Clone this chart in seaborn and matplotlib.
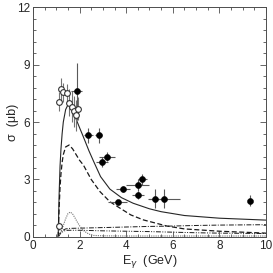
"""
Photoproduction cross section vs photon energy: data points with model curves
"""
import numpy as np
import seaborn as sns
import matplotlib.pyplot as plt
from matplotlib.ticker import MultipleLocator

# filled points: E, sigma, x error, y error
fill_e = [1.88, 2.38, 2.82, 2.95, 3.17, 3.64, 3.85, 4.50, 4.50, 4.70, 5.25, 5.64, 9.30]
fill_s = [7.6, 5.3, 5.3, 3.9, 4.2, 1.8, 2.5, 2.7, 2.2, 3.0, 2.0, 2.0, 1.9]
fill_xe = [0.24, 0.2, 0.15, 0.25, 0.35, 0.4, 0.3, 0.5, 0.25, 0.2, 0.3, 0.65, 0.0]
fill_ye = [1.5, 0.4, 0.4, 0.25, 0.25, 0.15, 0.15, 0.3, 0.2, 0.3, 0.5, 0.5, 0.3]

# open points: E, sigma, y error
open_e = [1.10, 1.13, 1.20, 1.30, 1.45, 1.55, 1.66, 1.76, 1.85, 1.95]
open_s = [0.57, 7.05, 7.7, 7.55, 7.5, 7.0, 6.8, 6.55, 6.35, 6.7]
open_ye = [0.2, 0.5, 0.6, 0.5, 0.5, 0.7, 0.8, 0.8, 0.8, 0.6]

# model curves
tot_e = [1.08, 1.12, 1.16, 1.2, 1.25, 1.3, 1.4, 1.5, 1.6, 1.8, 2.0, 2.16, 2.4, 2.6,
         2.9, 3.3, 3.8, 4.3, 5.0, 5.5, 6.5, 8.0, 10.0]
tot_s = [0.0, 2.2, 3.7, 4.6, 5.4, 6.0, 6.65, 6.9, 6.85, 6.3, 5.7, 5.23, 4.5, 3.95,
         3.15, 2.5, 2.05, 1.76, 1.47, 1.32, 1.12, 0.98, 0.88]

dash_e = [1.08, 1.12, 1.16, 1.2, 1.25, 1.3, 1.4, 1.55, 1.7, 2.0, 2.16, 2.5, 2.88, 3.3,
          3.74, 4.2, 4.74, 5.75, 6.5, 8.0, 10.0]
dash_s = [0.0, 1.5, 2.6, 3.3, 3.9, 4.3, 4.7, 4.8, 4.6, 4.0, 3.76, 3.0, 2.36, 1.84,
          1.5, 1.15, 0.89, 0.57, 0.42, 0.3, 0.2]

dd_e = [1.08, 1.2, 1.4, 1.6, 2.0, 3.0, 4.0, 5.0, 6.0, 7.0, 8.0, 10.0]
dd_s = [0.0, 0.3, 0.42, 0.45, 0.46, 0.49, 0.52, 0.55, 0.57, 0.6, 0.62, 0.64]

ddd_e = [1.08, 1.2, 1.35, 1.5, 2.0, 3.0, 4.0, 5.0, 6.0, 7.0, 8.0, 10.0]
ddd_s = [0.0, 0.22, 0.32, 0.35, 0.35, 0.32, 0.3, 0.28, 0.25, 0.22, 0.2, 0.18]

dot_e = [1.08, 1.2, 1.3, 1.4, 1.5, 1.6, 1.7, 1.8, 1.9, 2.0, 2.2, 2.4, 2.6, 3.0, 4.0, 6.0, 8.0, 10.0]
dot_s = [0.0, 0.25, 0.6, 0.95, 1.22, 1.3, 1.2, 1.0, 0.78, 0.58, 0.3, 0.15, 0.08, 0.06, 0.05, 0.05, 0.05, 0.05]

sns.set_style("ticks")
plt.rcParams['font.family'] = ['Liberation Sans', 'DejaVu Sans']

fig = plt.figure(figsize=(2.73, 2.73), dpi=100)
ax = fig.add_axes([0.121, 0.132, 0.853, 0.842])

sns.lineplot(x=tot_e, y=tot_s, ax=ax, color='0.15', lw=0.8, sort=False)
sns.lineplot(x=dash_e, y=dash_s, ax=ax, color='0.1', lw=0.9, sort=False,
             linestyle=(0, (4, 2)))
sns.lineplot(x=dd_e, y=dd_s, ax=ax, color='0.1', lw=0.7, sort=False,
             linestyle=(0, (5, 1.5, 1, 1.5)))
sns.lineplot(x=ddd_e, y=ddd_s, ax=ax, color='0.1', lw=0.7, sort=False,
             linestyle=(0, (5, 1.5, 1, 1.5, 1, 1.5)))
sns.lineplot(x=dot_e, y=dot_s, ax=ax, color='0.45', lw=0.8, sort=False,
             linestyle=(0, (1, 1)))

ax.errorbar(open_e, open_s, yerr=open_ye, fmt='none', ecolor='0.45', elinewidth=0.8)
ax.errorbar(fill_e, fill_s, xerr=fill_xe, yerr=fill_ye, fmt='none', ecolor='0.35',
            elinewidth=0.8)
sns.scatterplot(x=open_e, y=open_s, ax=ax, marker='o', s=17, facecolor='white',
                edgecolor='0.2', linewidth=0.8, zorder=5)
sns.scatterplot(x=fill_e, y=fill_s, ax=ax, marker='o', s=19, color='black',
                edgecolor='black', zorder=5)

ax.set_xlim(0, 10)
ax.set_ylim(0, 12)
ax.xaxis.set_major_locator(MultipleLocator(2))
ax.xaxis.set_minor_locator(MultipleLocator(0.5))
ax.yaxis.set_major_locator(MultipleLocator(3))
ax.yaxis.set_minor_locator(MultipleLocator(0.6))
ax.tick_params(which='both', direction='in', top=True, right=True, labelsize=8.5,
               width=0.6, color='0.3', pad=2)
ax.tick_params(which='major', length=4)
ax.tick_params(which='minor', length=2)
for s in ax.spines.values():
    s.set_linewidth(0.7)
    s.set_color('0.3')

ax.set_xlabel(r'E$_\gamma$  (GeV)', fontsize=9, labelpad=1)
ax.set_ylabel('σ  (μb)', fontsize=9)
ax.yaxis.set_label_coords(-0.06, 0.5)

fig.savefig('out.png', dpi=100)
plt.close()
